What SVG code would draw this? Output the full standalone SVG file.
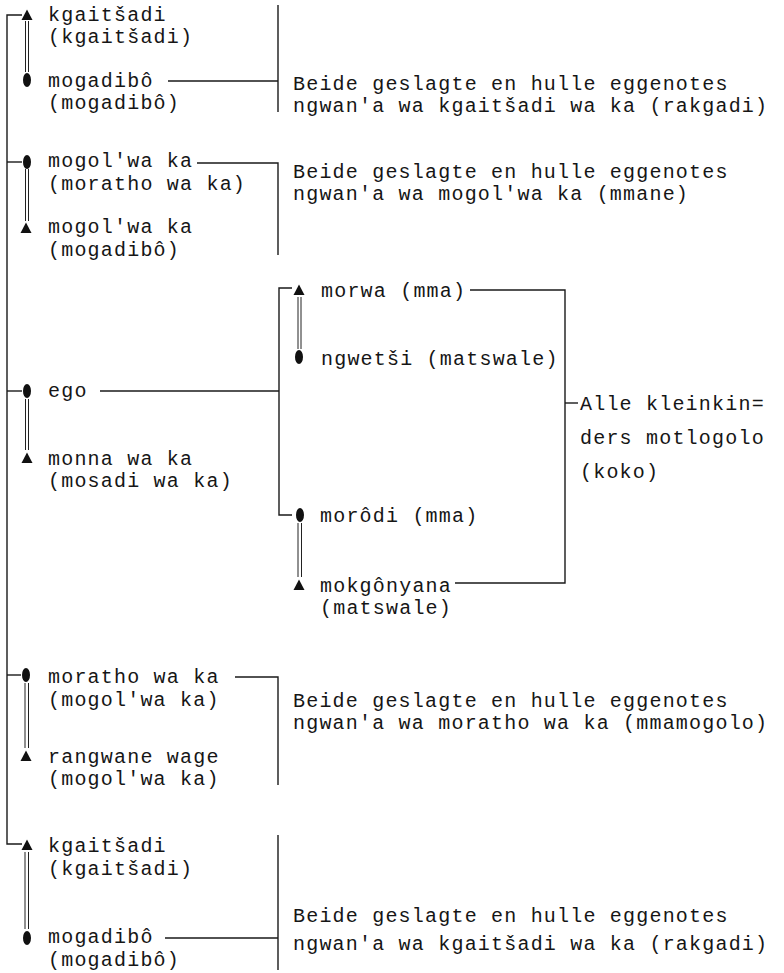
<svg xmlns="http://www.w3.org/2000/svg" xmlns:xlink="http://www.w3.org/1999/xlink" width="784" height="973" viewBox="0 0 784 973">
  <style>
    .t { font-family: "Liberation Mono", "DejaVu Sans Mono", monospace; font-size: 20px; letter-spacing: 1.2px; fill: #161616; }
    .ln { stroke: #1a1a1a; stroke-width: 1.4; fill: none; }
    .dbl { stroke: #222; stroke-width: 1; fill: none; }
    .sym { fill: #111; }
  </style>
  <defs>
    <!-- male: filled triangle; female: filled oval -->
    <path id="male" class="sym" d="M0,-5.5 L5.5,5 L-5.5,5 Z"/>
    <ellipse id="female" class="sym" rx="4" ry="7"/>
  </defs>
  <rect width="784" height="973" fill="#ffffff"/>

  <g id="connectors">
    <!-- outer sibling spine -->
    <path class="ln" d="M22,15 H7 V844 H22"/>
    <path class="ln" d="M7,162 H22"/>
    <path class="ln" d="M7,391 H22"/>
    <path class="ln" d="M7,675 H21"/>
    <!-- marriage double lines -->
    <path class="dbl" d="M25.5,21 V72 M28.5,21 V72"/>
    <path class="dbl" d="M25.5,169 V221 M28.5,169 V221"/>
    <path class="dbl" d="M25.5,399 V450 M28.5,399 V450"/>
    <path class="dbl" d="M25,683 V748 M28.5,683 V748"/>
    <path class="dbl" d="M25,852 V929 M28.5,852 V929"/>
    <path class="dbl" d="M298,297 V349 M301,297 V349"/>
    <path class="dbl" d="M298,523 V577 M301.5,523 V577"/>
    <!-- group brackets -->
    <path class="ln" d="M168,81 H278 M278,5 V112"/>
    <path class="ln" d="M197,163 H278 V255"/>
    <path class="ln" d="M100,391 H279"/>
    <path class="ln" d="M292,288 H279 V515 H292"/>
    <path class="ln" d="M470,290 H565 V583 H455"/>
    <path class="ln" d="M565,403 H578"/>
    <path class="ln" d="M235,677 H278 V785"/>
    <path class="ln" d="M165,938 H278 M278,835 V970"/>
  </g>

  <g id="n-kgaitsadi-top">
    <use xlink:href="#male" x="27" y="15"/>
    <text class="t" x="48" y="21">kgaitšadi</text>
    <text class="t" x="48" y="43">(kgaitšadi)</text>
  </g>
  <g id="n-mogadibo-top">
    <use xlink:href="#female" x="27" y="80"/>
    <text class="t" x="48" y="87">mogadibô</text>
    <text class="t" x="48" y="109">(mogadibô)</text>
  </g>
  <g id="d-rakgadi-top">
    <text class="t" x="293" y="90">Beide geslagte en hulle eggenotes</text>
    <text class="t" x="293" y="112">ngwan'a wa kgaitšadi wa ka (rakgadi)</text>
  </g>

  <g id="n-mogolwa-f">
    <use xlink:href="#female" x="27" y="162"/>
    <text class="t" x="48" y="167">mogol'wa ka</text>
    <text class="t" x="48" y="190">(moratho wa ka)</text>
  </g>
  <g id="n-mogolwa-m">
    <use xlink:href="#male" x="26" y="228"/>
    <text class="t" x="48" y="233">mogol'wa ka</text>
    <text class="t" x="48" y="256">(mogadibô)</text>
  </g>
  <g id="d-mmane">
    <text class="t" x="293" y="178">Beide geslagte en hulle eggenotes</text>
    <text class="t" x="293" y="200">ngwan'a wa mogol'wa ka (mmane)</text>
  </g>

  <g id="n-ego">
    <use xlink:href="#female" x="27" y="391"/>
    <text class="t" x="48" y="397">ego</text>
  </g>
  <g id="n-monna">
    <use xlink:href="#male" x="27" y="458"/>
    <text class="t" x="48" y="465">monna wa ka</text>
    <text class="t" x="48" y="487">(mosadi wa ka)</text>
  </g>

  <g id="n-morwa">
    <use xlink:href="#male" x="299" y="290"/>
    <text class="t" x="321" y="297">morwa (mma)</text>
  </g>
  <g id="n-ngwetsi">
    <use xlink:href="#female" x="299" y="357"/>
    <text class="t" x="321" y="365">ngwetši (matswale)</text>
  </g>
  <g id="n-morodi">
    <use xlink:href="#female" x="300" y="515"/>
    <text class="t" x="320" y="522">morôdi (mma)</text>
  </g>
  <g id="n-mokgonyana">
    <use xlink:href="#male" x="299" y="585"/>
    <text class="t" x="320" y="592">mokgônyana</text>
    <text class="t" x="320" y="614">(matswale)</text>
  </g>
  <g id="d-koko">
    <text class="t" x="580" y="410">Alle kleinkin=</text>
    <text class="t" x="580" y="444">ders motlogolo</text>
    <text class="t" x="580" y="478">(koko)</text>
  </g>

  <g id="n-moratho">
    <use xlink:href="#female" x="26" y="675"/>
    <text class="t" x="48" y="683">moratho wa ka</text>
    <text class="t" x="48" y="706">(mogol'wa ka)</text>
  </g>
  <g id="n-rangwane">
    <use xlink:href="#male" x="26" y="756"/>
    <text class="t" x="48" y="763">rangwane wage</text>
    <text class="t" x="48" y="785">(mogol'wa ka)</text>
  </g>
  <g id="d-mmamogolo">
    <text class="t" x="293" y="707">Beide geslagte en hulle eggenotes</text>
    <text class="t" x="293" y="729">ngwan'a wa moratho wa ka (mmamogolo)</text>
  </g>

  <g id="n-kgaitsadi-bottom">
    <use xlink:href="#male" x="27" y="845"/>
    <text class="t" x="48" y="852">kgaitšadi</text>
    <text class="t" x="48" y="875">(kgaitšadi)</text>
  </g>
  <g id="n-mogadibo-bottom">
    <use xlink:href="#female" x="27" y="938"/>
    <text class="t" x="48" y="943">mogadibô</text>
    <text class="t" x="48" y="966">(mogadibô)</text>
  </g>
  <g id="d-rakgadi-bottom">
    <text class="t" x="293" y="922">Beide geslagte en hulle eggenotes</text>
    <text class="t" x="293" y="950">ngwan'a wa kgaitšadi wa ka (rakgadi)</text>
  </g>
</svg>
